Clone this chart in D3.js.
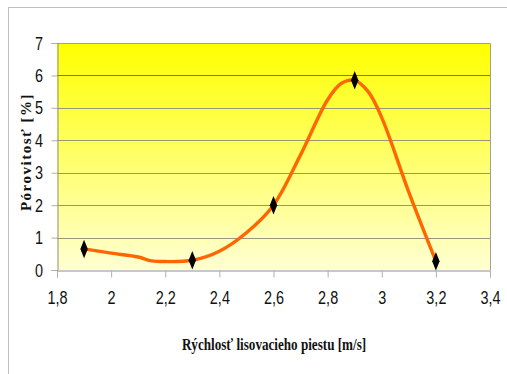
<!DOCTYPE html>
<html><head><meta charset="utf-8">
<script src="https://cdn.jsdelivr.net/npm/d3@7"></script>
<style>body{margin:0;background:#fff}</style>
</head><body>
<svg id="c" width="507" height="374"></svg>
<script>
// Data
const markerX = [1.9, 2.3, 2.6, 2.9, 3.2];
const markerY = [0.65, 0.3, 2.0, 5.85, 0.27];
const curveX = [1.9, 2.0, 2.1, 2.15, 2.2, 2.3, 2.4, 2.5, 2.6, 2.7, 2.8, 2.85, 2.9, 2.95, 3.0, 3.1, 3.2];
const curveY = [0.65, 0.52, 0.40, 0.28, 0.26, 0.30, 0.58, 1.15, 2.0, 3.55, 5.25, 5.75, 5.85, 5.5, 4.7, 2.4, 0.27];
const xTicks = [1.8, 2.0, 2.2, 2.4, 2.6, 2.8, 3.0, 3.2, 3.4];
const yTicks = [0, 1, 2, 3, 4, 5, 6, 7];
const xTitle = "Rýchlosť lisovacieho piestu [m/s]";
const yTitle = "Pórovitosť [%]";

const svg = d3.select("#c");
const L = 57, T = 43, R = 490, B = 270;
const x = d3.scaleLinear().domain([1.8, 3.4]).range([L, R]);
const y = d3.scaleLinear().domain([0, 7]).range([B, T]);

// outer border
svg.append("rect").attr("x", 8.5).attr("y", 7.5).attr("width", 520).attr("height", 400)
  .attr("fill", "none").attr("stroke", "#c0c0c0").attr("stroke-width", 1);

const defs = svg.append("defs");
const g = defs.append("linearGradient").attr("id", "bg").attr("x1", 0).attr("y1", 0).attr("x2", 0).attr("y2", 1);
g.append("stop").attr("offset", "0%").attr("stop-color", "#ffff00");
g.append("stop").attr("offset", "100%").attr("stop-color", "#ffffd2");

svg.append("rect").attr("x", L).attr("y", T).attr("width", R - L).attr("height", B - T).attr("fill", "url(#bg)");

// gridlines
svg.append("g").selectAll("line").data(yTicks.filter(d => d > 0 && d < 7)).join("line")
  .attr("x1", L).attr("x2", R).attr("y1", d => Math.round(y(d)) + 0.5).attr("y2", d => Math.round(y(d)) + 0.5)
  .attr("stroke", d => d === 6 ? "#6e6e40" : "#8c8c78").attr("stroke-width", 1).attr("opacity", 0.9);

// plot border top/right
svg.append("path").attr("d", `M${L},${T + 0.5}H${R + 0.5}V${B}`).attr("fill", "none").attr("stroke", "#a0a0a0");

// axes
const fmt = d => d3.format(".1f")(d).replace(".", ",").replace(/,0$/, "");
const xAxis = svg.append("g").attr("transform", `translate(0,${B + 0.5})`)
  .call(d3.axisBottom(x).tickValues(xTicks).tickSize(7).tickPadding(13).tickFormat(fmt));
const yAxis = svg.append("g").attr("transform", `translate(${L + 0.5},0)`)
  .call(d3.axisLeft(y).tickValues(yTicks).tickSize(6).tickPadding(5).tickFormat(d => d));
[xAxis, yAxis].forEach(a => {
  a.select(".domain").attr("stroke", "#909090");
  a.selectAll(".tick line").attr("stroke", "#b0b0b0");
  a.selectAll("text").attr("fill", "#111").attr("font-family", "Liberation Sans, Arial, sans-serif").attr("font-size", 19);
});
xAxis.selectAll(".tick text").each(function () {
  const t = d3.select(this); const yy = +t.attr("y");
  t.attr("transform", `translate(0,${yy}) scale(0.76,1) translate(0,${-yy})`);
});
yAxis.selectAll(".tick text").attr("transform", "translate(-6,0) scale(0.76,1)");

// curve
const line = d3.line().x((d, i) => x(curveX[i])).y(d => y(d)).curve(d3.curveCatmullRom.alpha(0.5));
svg.append("path").datum(curveY).attr("d", line).attr("fill", "none")
  .attr("stroke", "#ff6600").attr("stroke-width", 3.4).attr("stroke-linejoin", "round");

// markers
svg.append("g").selectAll("path").data(markerY).join("path")
  .attr("transform", (d, i) => `translate(${x(markerX[i])},${y(d)}) scale(0.8,1.15)`)
  .attr("d", d3.symbol(d3.symbolDiamond, 75)).attr("fill", "#000");

// titles
svg.append("text").attr("transform", "translate(274,350) scale(0.82,1)")
  .attr("text-anchor", "middle").attr("font-family", "Liberation Serif, Times New Roman, serif")
  .attr("font-size", 16).attr("font-weight", "bold").attr("fill", "#111").text(xTitle);
svg.append("text").attr("transform", "translate(31,152) rotate(-90)")
  .attr("text-anchor", "middle").attr("font-family", "Liberation Serif, Times New Roman, serif")
  .attr("font-size", 15).attr("font-weight", "bold").attr("fill", "#111").attr("letter-spacing", 1.5).text(yTitle);
</script>
</body></html>
